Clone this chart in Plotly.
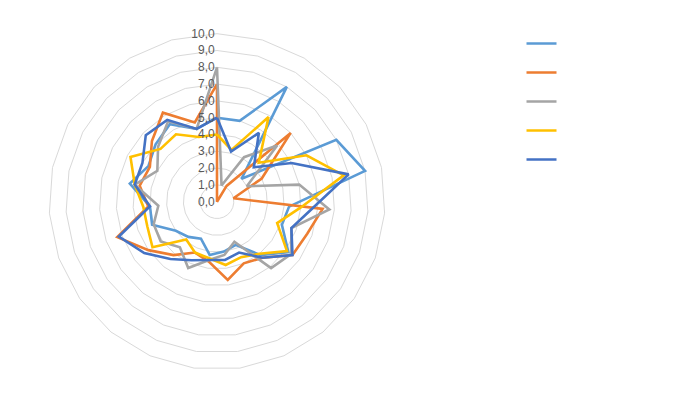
import plotly.graph_objects as go

categories = [str(i) for i in range(1, 24)]

series_1 = [5.0, 5.0, 8.0, 2.0, 8.0, 9.0, 4.3, 4.1, 5.2, 4.1, 2.8, 3.0, 3.2, 2.4, 2.7, 3.0, 4.1, 4.0, 5.3, 4.6, 5.0, 5.4, 4.5]
series_2 = [7.0, 0.0, 1.1, 6.0, 3.0, 1.0, 6.3, 5.7, 5.5, 4.3, 4.0, 4.7, 3.6, 3.3, 4.1, 5.0, 6.3, 4.1, 4.7, 4.5, 5.3, 6.2, 4.9]
series_3 = [8.0, 1.0, 3.1, 4.9, 2.0, 5.0, 6.7, 4.7, 5.4, 5.1, 2.6, 3.2, 3.5, 4.3, 3.5, 4.1, 4.0, 3.5, 5.0, 4.0, 4.8, 5.6, 4.5]
series_4 = [4.0, 3.2, 5.9, 3.4, 6.0, 7.7, 5.0, 3.8, 5.1, 4.0, 3.6, 3.8, 3.4, 3.3, 2.9, 4.7, 4.4, 4.4, 5.0, 5.8, 4.6, 4.7, 4.0]
series_5 = [5.0, 3.1, 4.8, 3.0, 5.0, 8.0, 5.7, 4.7, 5.5, 4.3, 3.3, 3.5, 3.5, 3.8, 4.4, 5.3, 6.2, 4.0, 5.0, 5.0, 5.8, 5.7, 4.5]

series_names = [" ", " ", " ", " ", " "]
colors = ["#5B9BD5", "#ED7D31", "#A5A5A5", "#FFC000", "#4472C4"]
radial_ticks = [0, 1, 2, 3, 4, 5, 6, 7, 8, 9, 10]

fig = go.Figure()
for vals, name, col in zip([series_1, series_2, series_3, series_4, series_5], series_names, colors):
    fig.add_trace(go.Scatterpolar(
        r=vals + vals[:1],
        theta=categories + categories[:1],
        mode="lines",
        name=name,
        line=dict(color=col, width=2.6),
    ))

W, H = 688, 399
cx, cy, R = 217, 201.7, 168
fig.update_layout(
    width=W, height=H,
    margin=dict(l=0, r=0, t=0, b=0),
    paper_bgcolor="white",
    separators=",.",
    font=dict(family="Liberation Sans, Arial, sans-serif", color="#595959"),
    polar=dict(
        domain=dict(x=[(cx - R) / W, (cx + R) / W], y=[(H - cy - R) / H, (H - cy + R) / H]),
        gridshape="linear",
        bgcolor="white",
        angularaxis=dict(
            rotation=90, direction="clockwise", type="category",
            categoryarray=categories,
            showticklabels=False, ticks="", showgrid=False,
            showline=True, linecolor="#D9D9D9", linewidth=1,
        ),
        radialaxis=dict(
            range=[0, 10], tickvals=radial_ticks, tickformat=".1f",
            ticksuffix="\u2003",
            angle=90, tickangle=90, side="counterclockwise",
            showline=False, ticks="", gridcolor="#D9D9D9", gridwidth=1,
            tickfont=dict(size=12, color="#595959"),
        ),
    ),
    showlegend=True,
    legend=dict(
        x=0.758, y=0.94, xanchor="left", yanchor="top",
        font=dict(size=20), bgcolor="rgba(0,0,0,0)",
        itemwidth=30,
    ),
)

fig.write_html("out.html")
